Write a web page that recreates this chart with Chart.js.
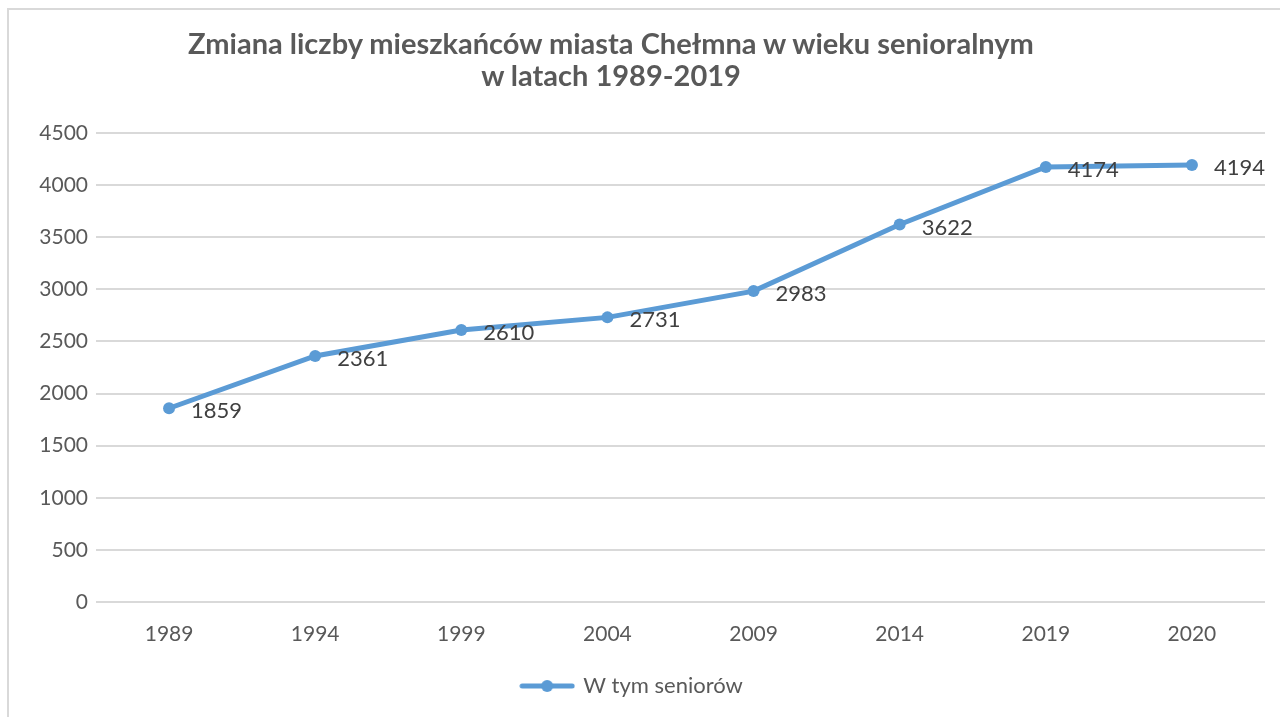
<!DOCTYPE html>
<html lang="pl">
<head>
<meta charset="UTF-8">
<title>Zmiana liczby mieszkańców miasta Chełmna w wieku senioralnym</title>
<script src="https://cdn.jsdelivr.net/npm/chart.js@4.4.0/dist/chart.umd.min.js"></script>
<style>
    body {
        margin: 0;
        padding: 0;
        background: #ffffff;
        overflow: hidden;
        font-family: 'Lato', sans-serif;
    }
    .frame {
        position: absolute;
        left: 7px;
        top: 8px;
        width: 1400px;
        height: 800px;
        border-left: 2px solid #d9d9d9;
        border-top: 2px solid #d9d9d9;
    }
    .chart-title {
        position: absolute;
        left: 0;
        top: 27px;
        width: 1222px;
        text-align: center;
        color: #595959;
        font-weight: 700;
        font-size: 29px;
        line-height: 32px;
    }
    .chart-wrapper {
        position: absolute;
        left: 0;
        top: 0;
        width: 1280px;
        height: 717px;
    }
</style>
</head>
<body>
    <div class="frame"></div>
    <div class="chart-wrapper">
        <canvas id="seniorChart"></canvas>
    </div>
    <div class="chart-title">Zmiana liczby mieszkańców miasta Chełmna w wieku senioralnym<br>w latach 1989-2019</div>

    <script>
        // Data
        const years = ['1989', '1994', '1999', '2004', '2009', '2014', '2019', '2020'];
        const seniors = [1859, 2361, 2610, 2731, 2983, 3622, 4174, 4194];
        const seriesName = 'W tym seniorów';

        const lineColor = '#5b9bd5';
        const textColor = '#595959';

        // Legend marker: short line with a dot, like the Excel legend
        function legendMarker() {
            const c = document.createElement('canvas');
            c.width = 56;
            c.height = 14;
            const ctx = c.getContext('2d');
            ctx.strokeStyle = lineColor;
            ctx.lineWidth = 5;
            ctx.lineCap = 'round';
            ctx.beginPath();
            ctx.moveTo(3, 7);
            ctx.lineTo(53, 7);
            ctx.stroke();
            ctx.fillStyle = lineColor;
            ctx.beginPath();
            ctx.arc(28, 7, 6, 0, Math.PI * 2);
            ctx.fill();
            return c;
        }

        // Value labels to the right of each point
        const valueLabels = {
            id: 'valueLabels',
            afterDatasetsDraw(chart) {
                const ctx = chart.ctx;
                const meta = chart.getDatasetMeta(0);
                const data = chart.data.datasets[0].data;
                ctx.save();
                ctx.font = '22px Lato, sans-serif';
                ctx.fillStyle = '#404040';
                ctx.textAlign = 'left';
                ctx.textBaseline = 'middle';
                meta.data.forEach((pt, i) => {
                    ctx.fillText(String(data[i]), pt.x + 22, pt.y + 3);
                });
                ctx.restore();
            }
        };

        const ctx = document.getElementById('seniorChart').getContext('2d');
        window.seniorChartInstance = new Chart(ctx, {
            type: 'line',
            data: {
                labels: years,
                datasets: [{
                    label: seriesName,
                    data: seniors,
                    borderColor: lineColor,
                    backgroundColor: lineColor,
                    borderWidth: 5,
                    pointRadius: 6,
                    pointHoverRadius: 6,
                    pointBackgroundColor: lineColor,
                    pointBorderWidth: 0,
                    pointStyle: 'circle',
                    tension: 0
                }]
            },
            options: {
                responsive: true,
                maintainAspectRatio: false,
                animation: false,
                layout: {
                    padding: { left: 0, right: 15, top: 133, bottom: 10 }
                },
                scales: {
                    x: {
                        offset: true,
                        grid: { display: false, drawTicks: false },
                        border: { display: false },
                        ticks: {
                            color: textColor,
                            font: { family: 'Lato', size: 21 },
                            padding: 20,
                            maxRotation: 0
                        },
                        afterFit(scale) { scale.height = 59; }
                    },
                    y: {
                        min: 0,
                        max: 4500,
                        grid: { color: '#d9d9d9', lineWidth: 2, drawTicks: false },
                        border: { display: false },
                        ticks: {
                            stepSize: 500,
                            color: textColor,
                            font: { family: 'Lato', size: 21 },
                            padding: 8,
                            callback: (v) => String(v)
                        },
                        afterFit(scale) { scale.width = 96; }
                    }
                },
                plugins: {
                    title: { display: false },
                    tooltip: { enabled: false },
                    legend: {
                        display: true,
                        position: 'bottom',
                        labels: {
                            color: textColor,
                            font: { family: 'Lato', size: 22 },
                            usePointStyle: true,
                            pointStyle: legendMarker(),
                            pointStyleWidth: 50,
                            padding: 14
                        }
                    }
                }
            },
            plugins: [valueLabels]
        });
    </script>
</body>
</html>
